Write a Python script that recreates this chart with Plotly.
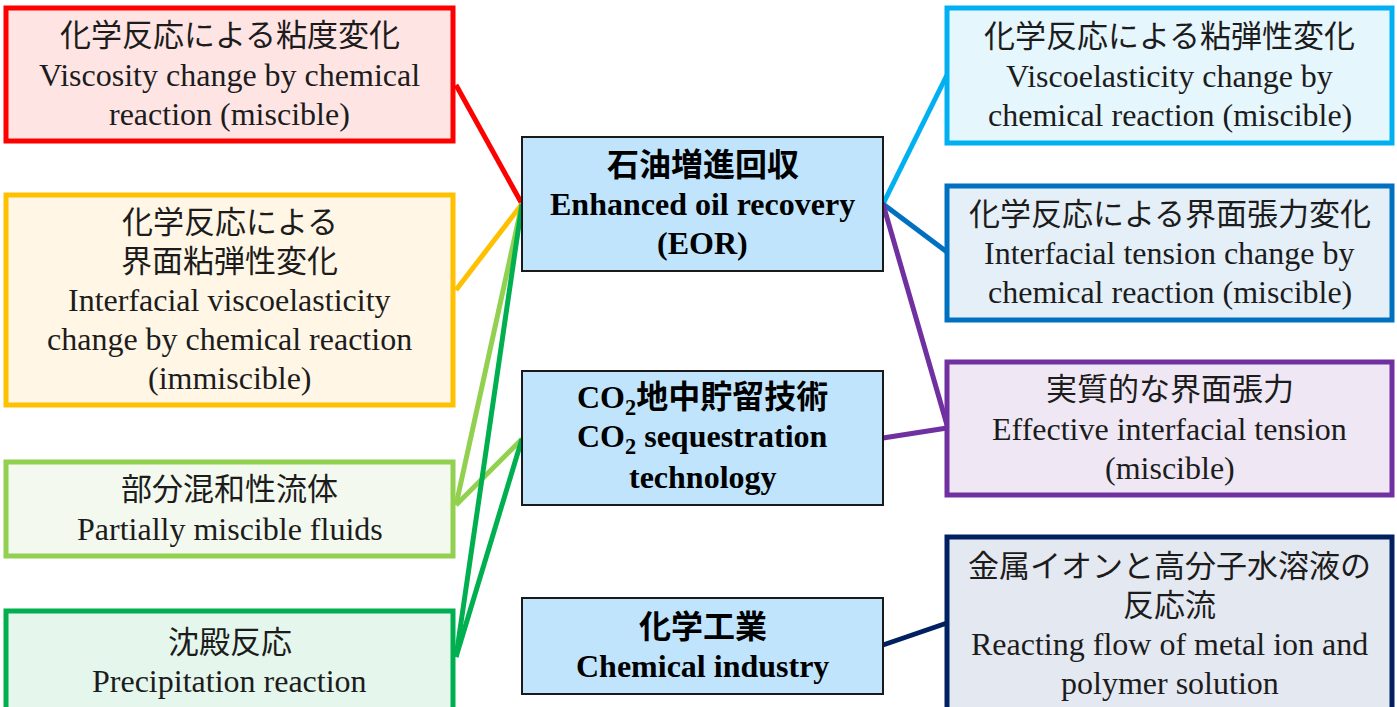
import plotly.graph_objects as go

# ---------------- content ----------------
left_jp = [["化学反応による粘度変化"],
           ["化学反応による", "界面粘弾性変化"],
           ["部分混和性流体"],
           ["沈殿反応"]]
left_en = [["Viscosity change by chemical", "reaction (miscible)"],
           ["Interfacial viscoelasticity", "change by chemical reaction", "(immiscible)"],
           ["Partially miscible fluids"],
           ["Precipitation reaction"]]
left_line = ["#FF0000", "#FFC000", "#92D050", "#00B050"]
left_fill = ["#FFE4E4", "#FFF6E6", "#F3F9EE", "#E5F6EC"]

center_jp = [["石油増進回収"], ["CO<sub>2</sub>地中貯留技術"], ["化学工業"]]
center_en = [["Enhanced oil recovery", "(EOR)"],
             ["CO<sub>2</sub> sequestration", "technology"],
             ["Chemical industry"]]
center_fill = "#BFE4FC"

right_jp = [["化学反応による粘弾性変化"],
            ["化学反応による界面張力変化"],
            ["実質的な界面張力"],
            ["金属イオンと高分子水溶液の", "反応流"]]
right_en = [["Viscoelasticity change by", "chemical reaction (miscible)"],
            ["Interfacial tension change by", "chemical reaction (miscible)"],
            ["Effective interfacial tension", "(miscible)"],
            ["Reacting flow of metal ion and", "polymer solution"]]
right_line = ["#00B0F0", "#0070C0", "#7030A0", "#002060"]
right_fill = ["#E6F6FD", "#E5EFF8", "#EFE8F4", "#E4E8F0"]

# links: (left box index, center box index) and (center box index, right box index)
left_links = [(0, 0), (1, 0), (2, 0), (2, 1), (3, 0), (3, 1)]
right_links = [(0, 0), (0, 1), (0, 2), (1, 2), (2, 3)]

# ---------------- layout geometry ----------------
W, H = 1397, 707
left_x = (6, 453)
left_y = [(8, 141), (195, 405), (462, 556), (611, 712)]
center_x = (522, 883)
center_y = [(137, 271), (371, 505), (598, 694)]
right_x = (947, 1392)
right_y = [(8, 143), (186, 320), (362, 495), (537, 713)]

# anchor points (on box edges) for connectors
left_anchor_y = [85, 290, 505, 657]
center_left_anchor_y = [204, 439, 645]
center_right_anchor_y = [204, 438, 645]
right_anchor_y = {(0, 0): 75, (0, 1): 252, (0, 2): 425, (1, 2): 428, (2, 3): 623}

FONT = "Liberation Serif, 'Times New Roman', 'Noto Sans CJK JP', serif"
TXT = "#1c1c1c"
LS = 39  # line spacing in px
JP_SIZE, EN_SIZE, CENTER_SIZE = 31, 32, 32

fig = go.Figure()
shapes = []
annotations = []

# connectors first (beneath boxes)
for li, ci in left_links:
    shapes.append(dict(type="line", xref="x", yref="y",
                       x0=left_x[1] + 3, y0=left_anchor_y[li],
                       x1=center_x[0], y1=center_left_anchor_y[ci],
                       line=dict(color=left_line[li], width=5)))
for ci, ri in right_links:
    shapes.append(dict(type="line", xref="x", yref="y",
                       x0=center_x[1], y0=center_right_anchor_y[ci],
                       x1=right_x[0], y1=right_anchor_y[(ci, ri)],
                       line=dict(color=right_line[ri], width=5)))


def add_box(x, y, line_color, fill, width):
    shapes.append(dict(type="rect", xref="x", yref="y",
                       x0=x[0], x1=x[1], y0=y[0], y1=y[1],
                       line=dict(color=line_color, width=width),
                       fillcolor=fill))


def add_text(x, y, lines, sizes, bold=False):
    cx = (x[0] + x[1]) / 2
    cy = (y[0] + min(y[1], H + 5)) / 2
    n = len(lines)
    for k, (t, s) in enumerate(zip(lines, sizes)):
        ty = cy + (k - (n - 1) / 2) * LS
        annotations.append(dict(x=cx, y=ty, xref="x", yref="y",
                                text=f"<b>{t}</b>" if bold else t,
                                showarrow=False, xanchor="center", yanchor="middle",
                                font=dict(family=FONT, size=s,
                                          color="#000000" if bold else TXT)))


for i in range(4):
    add_box(left_x, left_y[i], left_line[i], left_fill[i], 5)
    add_text(left_x, left_y[i], left_jp[i] + left_en[i],
             [JP_SIZE] * len(left_jp[i]) + [EN_SIZE] * len(left_en[i]))
for i in range(3):
    add_box(center_x, center_y[i], "#1a1a1a", center_fill, 2)
    lines = center_jp[i] + center_en[i]
    add_text(center_x, center_y[i], lines, [CENTER_SIZE] * len(lines), bold=True)
for i in range(4):
    add_box(right_x, right_y[i], right_line[i], right_fill[i], 5)
    add_text(right_x, right_y[i], right_jp[i] + right_en[i],
             [JP_SIZE] * len(right_jp[i]) + [EN_SIZE] * len(right_en[i]))

fig.update_layout(
    width=W, height=H,
    margin=dict(l=0, r=0, t=0, b=0),
    paper_bgcolor="white", plot_bgcolor="white",
    xaxis=dict(range=[0, W], visible=False, fixedrange=True),
    yaxis=dict(range=[H, 0], visible=False, fixedrange=True),
    shapes=shapes, annotations=annotations,
    showlegend=False,
)
fig.write_html("out.html", config={"displayModeBar": False},
               post_script="document.body.style.margin='0';"
                           "document.body.style.overflow='hidden';")
